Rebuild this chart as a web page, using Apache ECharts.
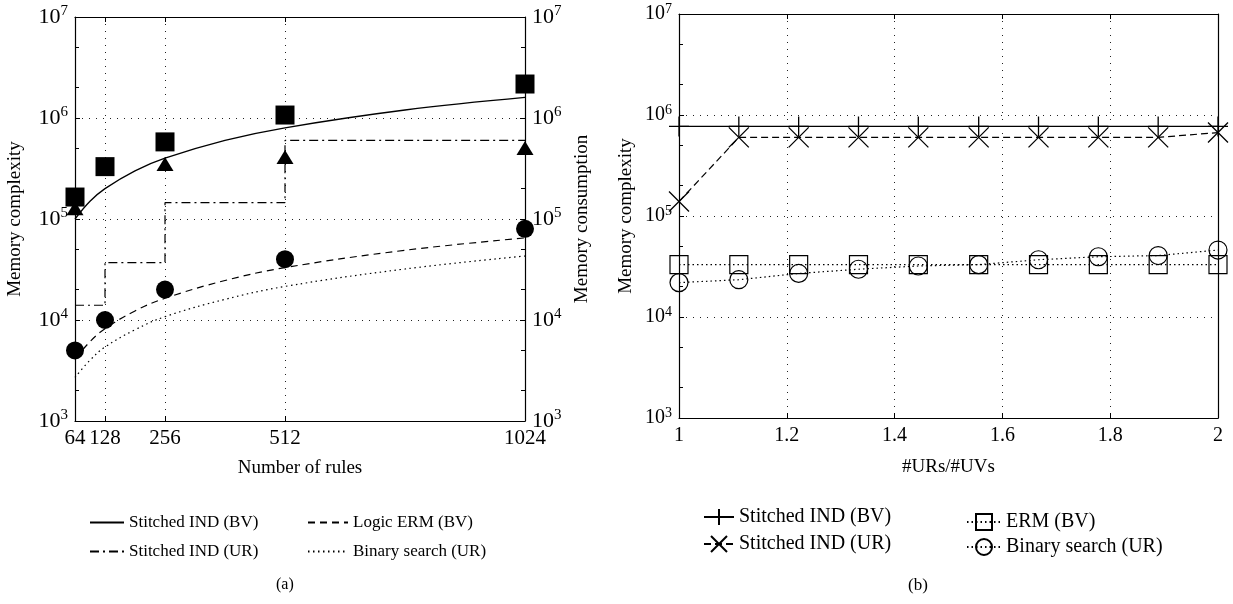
<!DOCTYPE html>
<html>
<head>
<meta charset="utf-8">
<script src="https://cdn.jsdelivr.net/npm/echarts@6/dist/echarts.min.js"></script>
<style>
  html, body { margin: 0; background: #fff; }
  #chart { width: 1233px; height: 604px; }
</style>
</head>
<body>
<div id="chart"></div>
<script>
  // ---- (a) memory vs number of rules ----
  const rules = [64, 96, 128, 192, 256, 384, 512, 768, 1024];
  const stitchedBV = [1.0e5, 1.5e5, 2.0e5, 3.0e5, 4.0e5, 6.0e5, 8.0e5, 1.2e6, 1.6e6];
  const logicERM = [4.1e3, 6.1e3, 8.2e3, 1.23e4, 1.64e4, 2.46e4, 3.3e4, 4.9e4, 6.5e4];
  const binaryA = [2.7e3, 4.0e3, 5.4e3, 8.0e3, 1.08e4, 1.6e4, 2.15e4, 3.2e4, 4.3e4];
  const stepRules = [64, 128, 256, 512, 1024];
  const stitchedUR = [1.4e4, 3.7e4, 1.45e5, 6.0e5, 6.0e5];
  const markRules = [64, 128, 256, 512, 1024];
  const squareVals = [1.65e5, 3.3e5, 5.8e5, 1.07e6, 2.17e6];
  const circleVals = [5e3, 1e4, 2e4, 4e4, 8e4];
  const triRules = [64, 256, 512, 1024];
  const triVals = [1.28e5, 3.5e5, 4.1e5, 5.05e5];
  const ruleTicks = [64, 128, 256, 512, 1024];

  // ---- (b) memory vs #URs/#UVs ----
  const ratio = [1, 1.111, 1.222, 1.333, 1.444, 1.556, 1.667, 1.778, 1.889, 2];
  const indBV = [7.7e5, 7.7e5, 7.7e5, 7.7e5, 7.7e5, 7.7e5, 7.7e5, 7.7e5, 7.7e5, 7.7e5];
  const indUR = [1.39e5, 6.0e5, 6.0e5, 6.0e5, 6.0e5, 6.0e5, 6.0e5, 6.0e5, 6.0e5, 6.7e5];
  const ermBV = [3.3e4, 3.3e4, 3.3e4, 3.3e4, 3.3e4, 3.3e4, 3.3e4, 3.3e4, 3.3e4, 3.3e4];
  const binaryB = [2.19e4, 2.34e4, 2.7e4, 2.97e4, 3.2e4, 3.3e4, 3.69e4, 3.95e4, 4.06e4, 4.6e4];

  // minor ticks of the log axes (2x and 5x each decade)
  const minorTicks = [2e3, 5e3, 2e4, 5e4, 2e5, 5e5, 2e6, 5e6];

  const FONT = 'Liberation Serif';
  const pair = (xs, ys) => xs.map((x, i) => [x, ys[i]]);
  const dotted = { show: true, lineStyle: { type: [1, 6], color: '#222', width: 1 } };
  const blackLine = { show: true, lineStyle: { color: '#000', width: 1.2 } };
  const powLabel = (v) => '{b|10}{s|' + Math.round(Math.log10(v)) + '}';
  const richPow = (size) => ({
    b: { fontSize: size, fontFamily: FONT, color: '#000' },
    s: { fontSize: Math.round(size * 0.68), fontFamily: FONT, color: '#000', padding: [0, 0, Math.round(size * 0.5), 0] },
  });
  const nameStyle = { fontSize: 19, fontFamily: FONT, color: '#000' };

  const logAxis = (grid, pos, extra) =>
    Object.assign(
      {
        type: 'log',
        gridIndex: grid,
        position: pos,
        logBase: 10,
        min: 1e3,
        max: 1e7,
        axisLine: blackLine,
        axisTick: { show: true, inside: true, length: 5, lineStyle: { color: '#000' } },
        axisLabel: { show: false },
        splitLine: { show: false },
      },
      extra
    );
  const minorAxis = (grid, pos) => ({
    type: 'value',
    gridIndex: grid,
    position: pos,
    min: 3,
    max: 7,
    axisLine: { show: false },
    axisTick: {
      show: true,
      inside: true,
      length: 4,
      customValues: minorTicks.map((v) => Math.log10(v)),
      lineStyle: { color: '#000' },
    },
    axisLabel: { show: false },
    splitLine: { show: false },
  });

  const option = {
    backgroundColor: '#fff',
    animation: false,
    title: [
      { text: '(a)', left: 271, top: 572, textStyle: { fontSize: 16, fontWeight: 'normal', fontFamily: FONT, color: '#000' } },
      { text: '(b)', left: 903, top: 572, textStyle: { fontSize: 17, fontWeight: 'normal', fontFamily: FONT, color: '#000' } },
    ],
    grid: [
      { left: 75, right: 708, top: 17, bottom: 183 },
      { left: 679, right: 15, top: 14, bottom: 186 },
    ],
    legend: [
      { data: ['Stitched IND (BV)', 'Stitched IND (UR)'], left: 84, top: 509, itemWidth: 34, itemStyle: { opacity: 0 } },
      { data: ['Logic ERM (BV)', 'Binary search (UR)'], left: 302, top: 509, itemWidth: 40, itemStyle: { opacity: 0 } },
      {
        data: ['Stitched IND (BV) ', 'Stitched IND (UR) '],
        left: 698, top: 502, itemWidth: 30, itemHeight: 20, itemGap: 7,
        textStyle: { fontSize: 20, fontFamily: FONT, color: '#000' },
      },
      {
        data: ['ERM (BV)', 'Binary search (UR) '],
        left: 961, top: 507, itemWidth: 34, itemHeight: 20, itemGap: 5,
        textStyle: { fontSize: 20, fontFamily: FONT, color: '#000' },
      },
    ].map((l) =>
      Object.assign(
        {
          orient: 'vertical',
          itemWidth: 20,
          itemHeight: 14,
          itemGap: 12,
          selectedMode: false,
          textStyle: { fontSize: 17, fontFamily: FONT, color: '#000' },
        },
        l
      )
    ),
    xAxis: [
      {
        type: 'value',
        gridIndex: 0,
        position: 'bottom',
        min: 64,
        max: 1024,
        name: 'Number of rules',
        nameLocation: 'middle',
        nameGap: 38,
        nameTextStyle: nameStyle,
        axisLine: blackLine,
        axisTick: { show: true, inside: true, length: 5, customValues: ruleTicks, lineStyle: { color: '#000' } },
        axisLabel: { customValues: ruleTicks, fontSize: 21, fontFamily: FONT, color: '#000', margin: 7, formatter: (v) => String(v) },
        splitLine: dotted,
      },
      {
        type: 'value',
        gridIndex: 0,
        position: 'top',
        min: 64,
        max: 1024,
        axisLine: blackLine,
        axisTick: { show: true, inside: true, length: 5, customValues: ruleTicks, lineStyle: { color: '#000' } },
        axisLabel: { show: false },
        splitLine: { show: false },
      },
      {
        type: 'value',
        gridIndex: 1,
        position: 'bottom',
        min: 1,
        max: 2,
        interval: 0.2,
        name: '#URs/#UVs',
        nameLocation: 'middle',
        nameGap: 40,
        nameTextStyle: nameStyle,
        axisLine: blackLine,
        axisTick: { show: true, inside: true, length: 5, lineStyle: { color: '#000' } },
        axisLabel: { fontSize: 20, fontFamily: FONT, color: '#000', margin: 8, formatter: (v) => String(+v.toFixed(1)) },
        splitLine: dotted,
      },
      {
        type: 'value',
        gridIndex: 1,
        position: 'top',
        min: 1,
        max: 2,
        interval: 0.2,
        axisLine: blackLine,
        axisTick: { show: true, inside: true, length: 5, lineStyle: { color: '#000' } },
        axisLabel: { show: false },
        splitLine: { show: false },
      },
    ],
    yAxis: [
      logAxis(0, 'left', {
        name: 'Memory complexity',
        nameLocation: 'middle',
        nameGap: 50,
        nameTextStyle: nameStyle,
        axisLabel: { show: true, formatter: powLabel, rich: richPow(22), margin: 7 },
        splitLine: dotted,
      }),
      logAxis(0, 'right', {
        name: 'Memory consumption',
        nameLocation: 'middle',
        nameRotate: 90,
        nameGap: 48,
        nameTextStyle: nameStyle,
        axisLabel: { show: true, formatter: powLabel, rich: richPow(22), margin: 7 },
      }),
      minorAxis(0, 'left'),
      minorAxis(0, 'right'),
      logAxis(1, 'left', {
        name: 'Memory complexity',
        nameLocation: 'middle',
        nameGap: 43,
        nameTextStyle: nameStyle,
        axisLabel: { show: true, formatter: powLabel, rich: richPow(20), margin: 7 },
        splitLine: dotted,
      }),
      logAxis(1, 'right', { axisTick: { show: false } }),
      minorAxis(1, 'left'),
    ],
    series: [
      // (a) model curves
      {
        name: 'Stitched IND (BV)',
        type: 'line',
        xAxisIndex: 0,
        yAxisIndex: 0,
        data: pair(rules, stitchedBV),
        smooth: 0.4,
        symbol: 'none',
        lineStyle: { color: '#000', width: 1.3, type: 'solid' },
        itemStyle: { color: 'rgba(0,0,0,0)' },
      },
      {
        name: 'Logic ERM (BV)',
        type: 'line',
        xAxisIndex: 0,
        yAxisIndex: 0,
        data: pair(rules, logicERM),
        smooth: 0.4,
        symbol: 'none',
        lineStyle: { color: '#000', width: 1.2, type: [7, 5] },
        itemStyle: { color: 'rgba(0,0,0,0)' },
      },
      {
        name: 'Stitched IND (UR)',
        type: 'line',
        xAxisIndex: 0,
        yAxisIndex: 0,
        data: pair(stepRules, stitchedUR),
        step: 'end',
        symbol: 'none',
        lineStyle: { color: '#000', width: 1.2, type: [9, 4, 2, 4] },
        itemStyle: { color: 'rgba(0,0,0,0)' },
      },
      {
        name: 'Binary search (UR)',
        type: 'line',
        xAxisIndex: 0,
        yAxisIndex: 0,
        data: pair(rules, binaryA),
        smooth: 0.4,
        symbol: 'none',
        lineStyle: { color: '#000', width: 1.2, type: [1.5, 3.5] },
        itemStyle: { color: 'rgba(0,0,0,0)' },
      },
      // (a) measured values
      {
        name: 'tri',
        type: 'scatter',
        xAxisIndex: 0,
        yAxisIndex: 1,
        data: pair(triRules, triVals),
        symbol: 'triangle',
        symbolSize: [17, 14],
        itemStyle: { color: '#000', opacity: 1 },
      },
      {
        name: 'sq',
        type: 'scatter',
        xAxisIndex: 0,
        yAxisIndex: 1,
        data: pair(markRules, squareVals),
        symbol: 'rect',
        symbolSize: 19,
        itemStyle: { color: '#000', opacity: 1 },
      },
      {
        name: 'circ',
        type: 'scatter',
        xAxisIndex: 0,
        yAxisIndex: 1,
        data: pair(markRules, circleVals),
        symbol: 'circle',
        symbolSize: 18,
        itemStyle: { color: '#000', opacity: 1 },
      },
      // (b)
      {
        name: 'Stitched IND (BV) ',
        type: 'line',
        xAxisIndex: 2,
        yAxisIndex: 4,
        data: pair(ratio, indBV),
        symbol: 'path://M10,0L10,20M0,10L20,10',
        symbolSize: 20,
        showAllSymbol: true,
        lineStyle: { color: '#000', width: 1.3, type: 'solid' },
        itemStyle: { color: 'rgba(0,0,0,0)', borderColor: '#000', borderWidth: 1.3 },
      },
      {
        name: 'Stitched IND (UR) ',
        type: 'line',
        xAxisIndex: 2,
        yAxisIndex: 4,
        data: pair(ratio, indUR),
        symbol: 'path://M0,0L20,20M20,0L0,20',
        symbolSize: 20,
        showAllSymbol: true,
        lineStyle: { color: '#000', width: 1.2, type: [7, 4] },
        itemStyle: { color: 'rgba(0,0,0,0)', borderColor: '#000', borderWidth: 1.3 },
      },
      {
        name: 'ERM (BV)',
        type: 'line',
        xAxisIndex: 2,
        yAxisIndex: 4,
        data: pair(ratio, ermBV),
        symbol: 'rect',
        symbolSize: 18,
        showAllSymbol: true,
        lineStyle: { color: '#000', width: 1.2, type: [1.5, 3] },
        itemStyle: { color: 'rgba(0,0,0,0)', borderColor: '#000', borderWidth: 1.2 },
      },
      {
        name: 'Binary search (UR) ',
        type: 'line',
        xAxisIndex: 2,
        yAxisIndex: 4,
        data: pair(ratio, binaryB),
        symbol: 'circle',
        symbolSize: 18,
        showAllSymbol: true,
        lineStyle: { color: '#000', width: 1.2, type: [1.5, 3] },
        itemStyle: { color: 'rgba(0,0,0,0)', borderColor: '#000', borderWidth: 1.2 },
      },
    ].map((s) => Object.assign({ silent: true, emphasis: { disabled: true }, clip: false }, s)),
  };

  const myChart = echarts.init(document.getElementById('chart'));
  myChart.setOption(option);
  window.addEventListener('resize', function () {
    myChart && myChart.resize();
  });
</script>
</body>
</html>
